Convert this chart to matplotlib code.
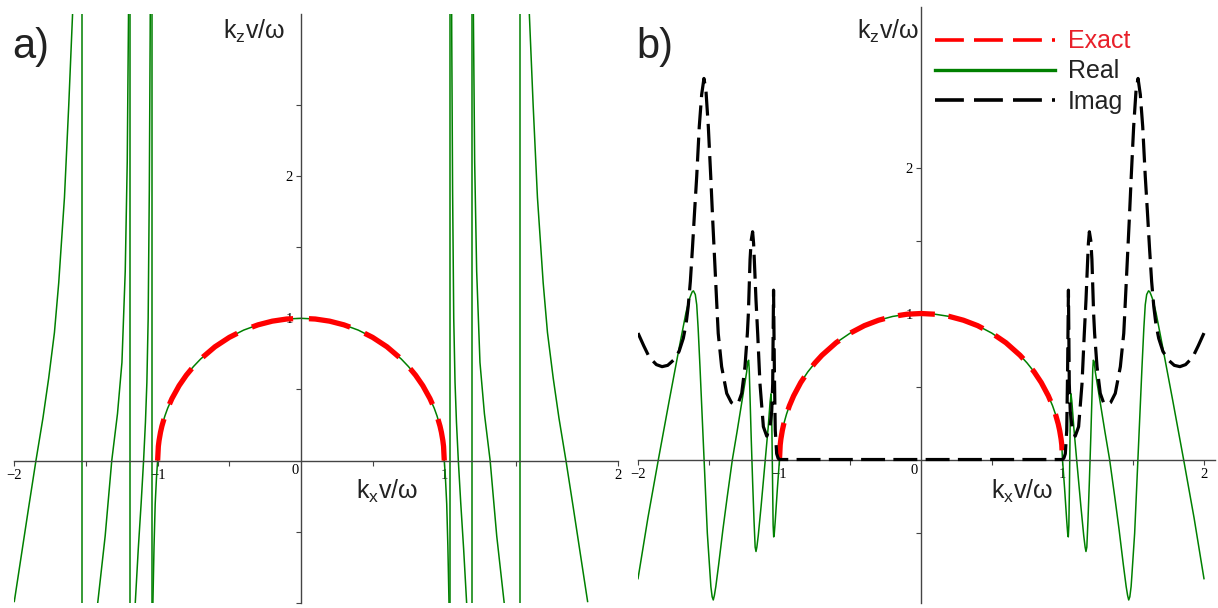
import matplotlib
matplotlib.use('Agg')
import matplotlib.pyplot as plt
from matplotlib.lines import Line2D

W, H = 1218, 608

# ---------------- data (curves are even in kx, listed for kx >= 0) ----------------
circle_kx = [0.0, 0.1, 0.2, 0.3, 0.4, 0.5, 0.6, 0.7, 0.75, 0.8, 0.85, 0.9, 0.93, 0.95, 0.97, 0.98, 0.99, 0.995, 1.0]
circle_kz = [1.0, 0.995, 0.980, 0.954, 0.917, 0.866, 0.800, 0.714, 0.661, 0.600, 0.527, 0.436, 0.368, 0.312, 0.243, 0.199, 0.141, 0.100, 0.0]

# panel a : real-valued branches
a_inner_kx = [1.0, 1.008, 1.017, 1.025, 1.033, 1.038, 1.041]
a_inner_kz = [0.0, -0.12, -0.305, -0.6, -1.0, -1.6, -3.5]
a_poles = [1.041, 1.19, 1.529]
a_b3_kx = [1.042, 1.046, 1.052, 1.058, 1.066, 1.075, 1.085, 1.098, 1.115, 1.135, 1.156, 1.175, 1.188]
a_b3_kz = [9.0, 4.5, 3.0, 1.9, 1.0, 0.55, 0.27, 0.0, -0.3, -0.62, -1.0, -1.5, -3.5]
a_b2_kx = [1.191, 1.196, 1.203, 1.212, 1.226, 1.249, 1.28, 1.32, 1.366, 1.418, 1.45, 1.5, 1.525]
a_b2_kz = [9.0, 4.5, 3.15, 2.1, 1.33, 0.69, 0.33, 0.0, -0.53, -1.0, -1.35, -2.2, -5.0]
a_b1_kx = [1.531, 1.545, 1.565, 1.593, 1.62, 1.65, 1.69, 1.72, 1.76, 1.80, 1.849, 1.90, 1.95, 2.0]
a_b1_kz = [12.0, 6.0, 4.2, 3.15, 2.5, 1.85, 1.25, 0.9, 0.58, 0.3, 0.0, -0.33, -0.66, -0.99]

# panel b : real and imaginary parts outside the circle
b_re_kx = [1.0, 1.015, 1.030, 1.037, 1.041, 1.045, 1.049, 1.053, 1.056, 1.060, 1.066, 1.08, 1.10,
           1.13, 1.15, 1.16, 1.166, 1.172, 1.18, 1.19, 1.20, 1.208, 1.214, 1.218, 1.224, 1.232,
           1.26, 1.30, 1.333, 1.37, 1.40, 1.43, 1.45, 1.46, 1.468, 1.476, 1.485, 1.49, 1.51, 1.533,
           1.562, 1.575, 1.585, 1.595, 1.608, 1.616, 1.625, 1.64, 1.66, 1.68, 1.703, 1.78, 1.856,
           1.93, 2.0]
b_re_kz = [0.0, -0.2, -0.42, -0.51, -0.53, -0.45, -0.2, 0.15, 0.38, 0.45, 0.40, 0.22, 0.0,
           -0.32, -0.52, -0.60, -0.63, -0.60, -0.42, -0.15, 0.15, 0.42, 0.62, 0.68, 0.67, 0.60,
           0.43, 0.19, 0.0, -0.26, -0.48, -0.72, -0.87, -0.93, -0.962, -0.94, -0.87, -0.80, -0.505, 0.0,
           0.636, 0.90, 1.06, 1.13, 1.155, 1.15, 1.13, 1.09, 1.01, 0.91, 0.796, 0.40, 0.0,
           -0.40, -0.816]
b_im_kx = [0.0, 1.0, 1.01, 1.02, 1.03, 1.036, 1.042, 1.045, 1.048, 1.055, 1.067, 1.09, 1.114, 1.138,
           1.154, 1.166, 1.175, 1.183, 1.19, 1.2, 1.208, 1.22, 1.227, 1.244, 1.267, 1.29, 1.315, 1.34,
           1.373, 1.409, 1.433, 1.44, 1.456, 1.472, 1.486, 1.503, 1.52, 1.534, 1.55, 1.567, 1.585,
           1.60, 1.615, 1.63, 1.645, 1.66, 1.68, 1.71, 1.75, 1.79, 1.83, 1.87, 1.92, 1.96, 2.0]
b_im_kz = [0.0, 0.0, 0.01, 0.04, 0.2, 0.6, 1.16, 0.85, 0.52, 0.33, 0.225, 0.16, 0.225, 0.52,
           0.86, 1.09, 1.30, 1.48, 1.56, 1.50, 1.37, 1.0, 0.864, 0.636, 0.453, 0.39, 0.375, 0.39,
           0.453, 0.636, 0.864, 1.0, 1.32, 1.64, 1.94, 2.28, 2.53, 2.61, 2.50, 2.28, 1.94,
           1.70, 1.45, 1.22, 1.05, 0.93, 0.83, 0.74, 0.68, 0.645, 0.636, 0.65, 0.70, 0.78, 0.866]

legend_labels = ['Exact', 'Real', 'Imag']
xtick_labels = ['\u22122', '\u22121', '0', '1', '2']
ytick_labels = ['1', '2']


def mirror(kx, kz):
    """even continuation: returns (-kx reversed, kz reversed)"""
    return [-v for v in kx[::-1]], kz[::-1]


def both(kx, kz):
    nx, nz = mirror(kx, kz)
    return nx[:-1] + kx, nz[:-1] + kz


GREEN = '#008000'
RED = '#ff0000'
AXC = '#444444'

fig = plt.figure(figsize=(W / 100, H / 100), dpi=100)


def fx(px):
    return px / W


def fy(py):
    return 1 - py / H


def make_axes(l, r, t, b, xlim, ylim):
    ax = fig.add_axes([fx(l), fy(b), (r - l) / W, (b - t) / H])
    ax.set_xlim(*xlim)
    ax.set_ylim(*ylim)
    ax.patch.set_alpha(0)
    for s in ('top', 'right'):
        ax.spines[s].set_visible(False)
    ax.spines['left'].set_position(('data', 0))
    ax.spines['bottom'].set_position(('data', 0))
    for s in ('left', 'bottom'):
        ax.spines[s].set_color(AXC)
        ax.spines[s].set_linewidth(1.0)
    ax.tick_params(direction='out', length=3.5, width=0.8, color=AXC, pad=2.5,
                   labelsize=10.5, labelfontfamily='Liberation Serif')
    return ax


# ---------------- panel a ----------------
axa = make_axes(14.3, 617.7, 13.8, 602.9, (-2.0, 2.21), (-1.0, 3.14))
cx, cz = both(circle_kx, circle_kz)
axa.plot(cx, cz, color=GREEN, lw=1.1, zorder=2)
for kx, kz in [(a_inner_kx, a_inner_kz), (a_b3_kx, a_b3_kz), (a_b2_kx, a_b2_kz), (a_b1_kx, a_b1_kz)]:
    nx, nz = mirror(kx, kz)
    axa.plot(kx, kz, color=GREEN, lw=1.1, zorder=2)
    axa.plot(nx, nz, color=GREEN, lw=1.1, zorder=2)
for p in a_poles:
    axa.axvline(p, color=GREEN, lw=1.1, zorder=2)
    axa.axvline(-p, color=GREEN, lw=1.1, zorder=2)
axa.plot(cx, cz, color=RED, lw=3.8, dashes=(8, 3.0), zorder=3, dash_capstyle='butt')
axa.set_xticks([-2, -1.5, -1, -0.5, 0.5, 1, 1.5, 2.21],
               [xtick_labels[0], '', xtick_labels[1], '', '', xtick_labels[3], '', xtick_labels[4]])
axa.set_yticks([-1, -0.5, 0.5, 1, 1.5, 2, 2.5], ['', '', '', ytick_labels[0], '', ytick_labels[1], ''])

# ---------------- panel b ----------------
axb = make_axes(638.0, 1215.3, 6.9, 602.6, (-2.0, 2.08), (-0.98, 3.10))
nx, nz = mirror(b_re_kx, b_re_kz)
axb.plot(nx + cx[1:-1] + b_re_kx, nz + cz[1:-1] + b_re_kz, color=GREEN, lw=1.1, zorder=2)
axb.plot(cx, cz, color=RED, lw=3.8, dashes=(7, 2.6), zorder=3, dash_capstyle='butt')
ix, iz = both(b_im_kx, b_im_kz)
axb.plot(ix, iz, color='black', lw=2.3, dashes=(7.5, 2.6), zorder=4, dash_capstyle='butt')
axb.set_xticks([-2, -1.5, -1, -0.5, 0.5, 1, 1.5, 2],
               [xtick_labels[0], '', xtick_labels[1], '', '', xtick_labels[3], '', xtick_labels[4]])
axb.set_yticks([-0.5, 0.5, 1, 1.5, 2], ['', '', ytick_labels[0], '', ytick_labels[1]])

# "0" labels sitting left of the vertical axis
for x0 in (295.0, 914.0):
    fig.text(fx(x0), fy(471), xtick_labels[2], fontsize=10.5, family='Liberation Serif',
             ha='center', va='center')

# ---------------- texts ----------------
SANS = 'Liberation Sans'
fig.text(fx(12.5), fy(58), 'a)', fontsize=30, family=SANS, color='#222222', va='baseline')
fig.text(fx(636.5), fy(58), 'b)', fontsize=30, family=SANS, color='#222222', va='baseline')
zl = r'k$_\mathregular{z}$v/ω'
xl = r'k$_\mathregular{x}$v/ω'
fig.text(fx(223), fy(39), zl, fontsize=18, family=SANS, color='#222222', va='baseline')
fig.text(fx(356), fy(499), xl, fontsize=18, family=SANS, color='#222222', va='baseline')
fig.text(fx(857), fy(39), zl, fontsize=18, family=SANS, color='#222222', va='baseline')
fig.text(fx(991), fy(499), xl, fontsize=18, family=SANS, color='#222222', va='baseline')

# ---------------- legend ----------------
leg_y = [40, 70, 100]
leg_styles = [dict(color=RED, lw=2.6, dashes=(8.0, 2.8)),
              dict(color=GREEN, lw=2.4),
              dict(color='black', lw=2.6, dashes=(8.0, 2.8))]
leg_colors = ['#e8202a', '#222222', '#222222']
for yy, st, lab, col in zip(leg_y, leg_styles, legend_labels, leg_colors):
    fig.add_artist(Line2D([fx(935), fx(1055)], [fy(yy), fy(yy)], transform=fig.transFigure,
                          dash_capstyle='butt', **st))
    fig.text(fx(1068), fy(yy + 8.5), lab, fontsize=18, family=SANS, color=col, va='baseline')

fig.savefig('out.png', dpi=100)
